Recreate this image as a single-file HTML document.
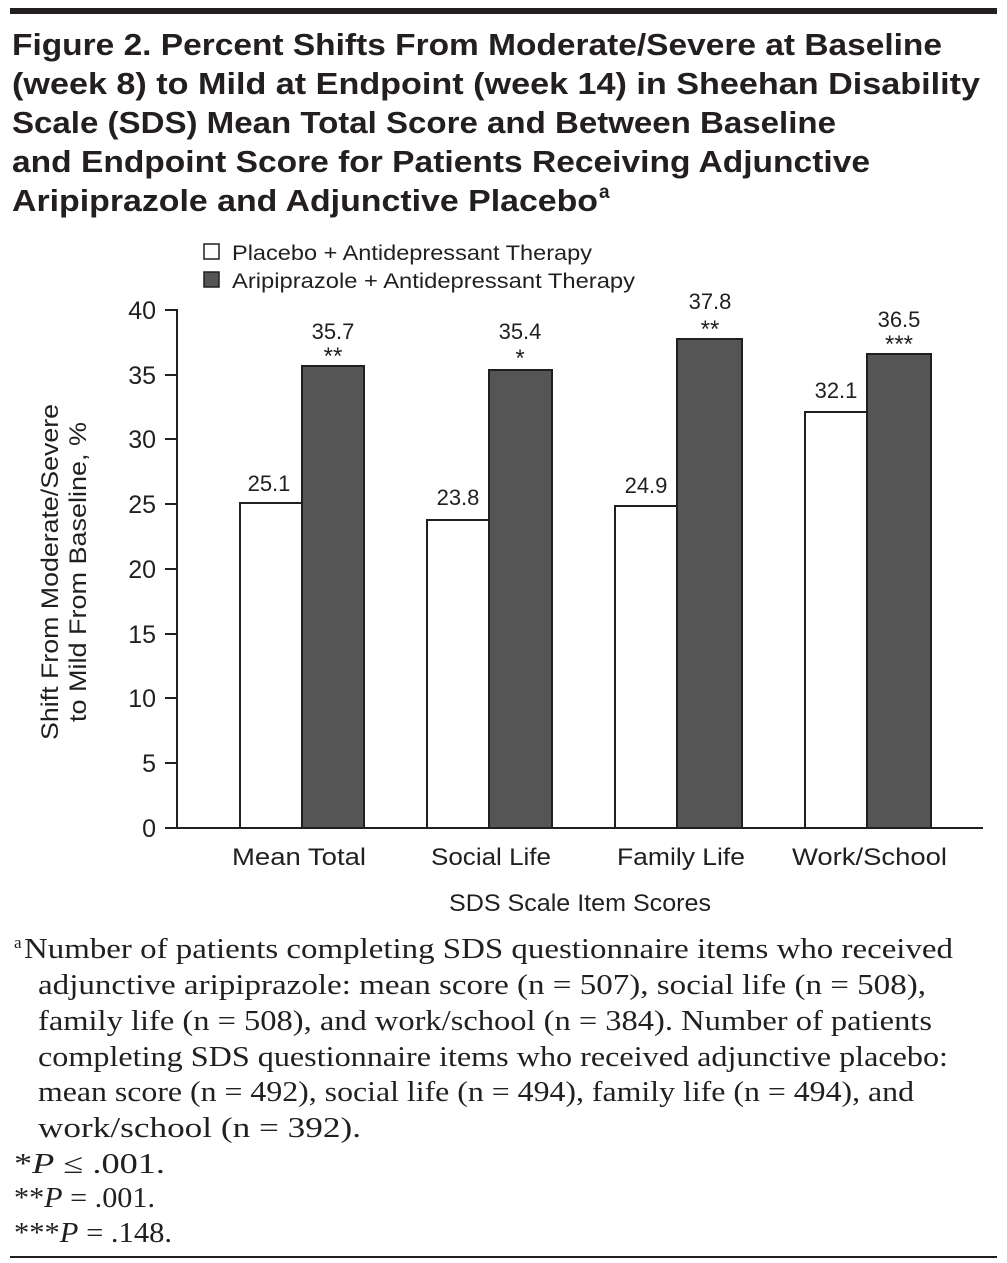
<!DOCTYPE html>
<html><head><style>
body{margin:0;background:#fff;}
svg{display:block;}
</style></head><body>
<svg width="1007" height="1263" viewBox="0 0 1007 1263" xmlns="http://www.w3.org/2000/svg">
<rect x="10" y="8" width="987" height="6" fill="#231f20"/>
<g font-family="Liberation Sans, sans-serif" font-weight="bold" font-size="31" fill="#231f20" lengthAdjust="spacingAndGlyphs">
<text x="12" y="55" textLength="930" lengthAdjust="spacingAndGlyphs">Figure 2. Percent Shifts From Moderate/Severe at Baseline</text>
<text x="12" y="94" textLength="968" lengthAdjust="spacingAndGlyphs">(week 8) to Mild at Endpoint (week 14) in Sheehan Disability</text>
<text x="12" y="133" textLength="824" lengthAdjust="spacingAndGlyphs">Scale (SDS) Mean Total Score and Between Baseline</text>
<text x="12" y="172" textLength="858" lengthAdjust="spacingAndGlyphs">and Endpoint Score for Patients Receiving Adjunctive</text>
<text x="12" y="211" textLength="586" lengthAdjust="spacingAndGlyphs">Aripiprazole and Adjunctive Placebo</text>
<text x="599" y="198" font-size="19">a</text>
</g>
<g font-family="Liberation Sans, sans-serif" font-size="21" fill="#231f20">
<rect x="204" y="244" width="15" height="15" fill="#fff" stroke="#231f20" stroke-width="1.5"/>
<text x="232" y="260" textLength="360" lengthAdjust="spacingAndGlyphs">Placebo + Antidepressant Therapy</text>
<rect x="204" y="272" width="15" height="15" fill="#555" stroke="#231f20" stroke-width="1.5"/>
<text x="232" y="288" textLength="403" lengthAdjust="spacingAndGlyphs">Aripiprazole + Antidepressant Therapy</text>
</g>
<g stroke="#231f20" stroke-width="2" fill="none">
<line x1="177" y1="309" x2="177" y2="829"/>
<line x1="176" y1="828" x2="983" y2="828"/>
<line x1="165" y1="310" x2="177" y2="310"/>
<line x1="165" y1="375" x2="177" y2="375"/>
<line x1="165" y1="439" x2="177" y2="439"/>
<line x1="165" y1="504" x2="177" y2="504"/>
<line x1="165" y1="569" x2="177" y2="569"/>
<line x1="165" y1="634" x2="177" y2="634"/>
<line x1="165" y1="698" x2="177" y2="698"/>
<line x1="165" y1="763" x2="177" y2="763"/>
<line x1="165" y1="828" x2="177" y2="828"/>
</g>
<g font-family="Liberation Sans, sans-serif" font-size="25" fill="#231f20" text-anchor="end">
<text x="156" y="319">40</text><text x="156" y="384">35</text><text x="156" y="448">30</text>
<text x="156" y="513">25</text><text x="156" y="578">20</text><text x="156" y="643">15</text>
<text x="156" y="707">10</text><text x="156" y="772">5</text><text x="156" y="837">0</text>
</g>
<g stroke="#231f20" stroke-width="2">
<rect x="240" y="503" width="62" height="325" fill="#fff"/>
<rect x="302" y="366" width="62" height="462" fill="#555"/>
<rect x="427" y="520" width="62" height="308" fill="#fff"/>
<rect x="489" y="370" width="63" height="458" fill="#555"/>
<rect x="615" y="506" width="62" height="322" fill="#fff"/>
<rect x="677" y="339" width="65" height="489" fill="#555"/>
<rect x="805" y="412" width="62" height="416" fill="#fff"/>
<rect x="867" y="354" width="64" height="474" fill="#555"/>
</g>
<g font-family="Liberation Sans, sans-serif" font-size="22" fill="#231f20" text-anchor="middle">
<text x="269" y="491">25.1</text><text x="333" y="339">35.7</text><text x="333" y="364" font-size="24">**</text>
<text x="458" y="505">23.8</text><text x="520" y="339">35.4</text><text x="520" y="366" font-size="24">*</text>
<text x="646" y="493">24.9</text><text x="710" y="309">37.8</text><text x="710" y="337" font-size="24">**</text>
<text x="836" y="398">32.1</text><text x="899" y="327">36.5</text><text x="899" y="352" font-size="24">***</text>
</g>
<g font-family="Liberation Sans, sans-serif" font-size="24" fill="#231f20">
<text x="232" y="865" textLength="134" lengthAdjust="spacingAndGlyphs">Mean Total</text>
<text x="431" y="865" textLength="120" lengthAdjust="spacingAndGlyphs">Social Life</text>
<text x="617" y="865" textLength="128" lengthAdjust="spacingAndGlyphs">Family Life</text>
<text x="792" y="865" textLength="155" lengthAdjust="spacingAndGlyphs">Work/School</text>
<text x="449" y="911" textLength="262" lengthAdjust="spacingAndGlyphs">SDS Scale Item Scores</text>
<text transform="translate(58,740) rotate(-90)" textLength="336" lengthAdjust="spacingAndGlyphs">Shift From Moderate/Severe</text>
<text transform="translate(86,722) rotate(-90)" textLength="300" lengthAdjust="spacingAndGlyphs">to Mild From Baseline, %</text>
</g>
<g font-family="Liberation Serif, serif" font-size="28" fill="#231f20">
<text x="14" y="948" font-size="17">a</text>
<text x="24" y="958" textLength="929" lengthAdjust="spacingAndGlyphs">Number of patients completing SDS questionnaire items who received</text>
<text x="38" y="994" textLength="888" lengthAdjust="spacingAndGlyphs">adjunctive aripiprazole: mean score (n = 507), social life (n = 508),</text>
<text x="38" y="1030" textLength="894" lengthAdjust="spacingAndGlyphs">family life (n = 508), and work/school (n = 384). Number of patients</text>
<text x="38" y="1066" textLength="910" lengthAdjust="spacingAndGlyphs">completing SDS questionnaire items who received adjunctive placebo:</text>
<text x="38" y="1101" textLength="876" lengthAdjust="spacingAndGlyphs">mean score (n = 492), social life (n = 494), family life (n = 494), and</text>
<text x="38" y="1137" textLength="323" lengthAdjust="spacingAndGlyphs">work/school (n = 392).</text>
<text x="14" y="1173" textLength="151" lengthAdjust="spacingAndGlyphs">*<tspan font-style="italic">P</tspan> ≤ .001.</text>
<text x="14" y="1207" textLength="141" lengthAdjust="spacingAndGlyphs">**<tspan font-style="italic">P</tspan> = .001.</text>
<text x="14" y="1242" textLength="158" lengthAdjust="spacingAndGlyphs">***<tspan font-style="italic">P</tspan> = .148.</text>
</g>
<rect x="10" y="1256" width="987" height="2" fill="#231f20"/>
</svg>
</body></html>
